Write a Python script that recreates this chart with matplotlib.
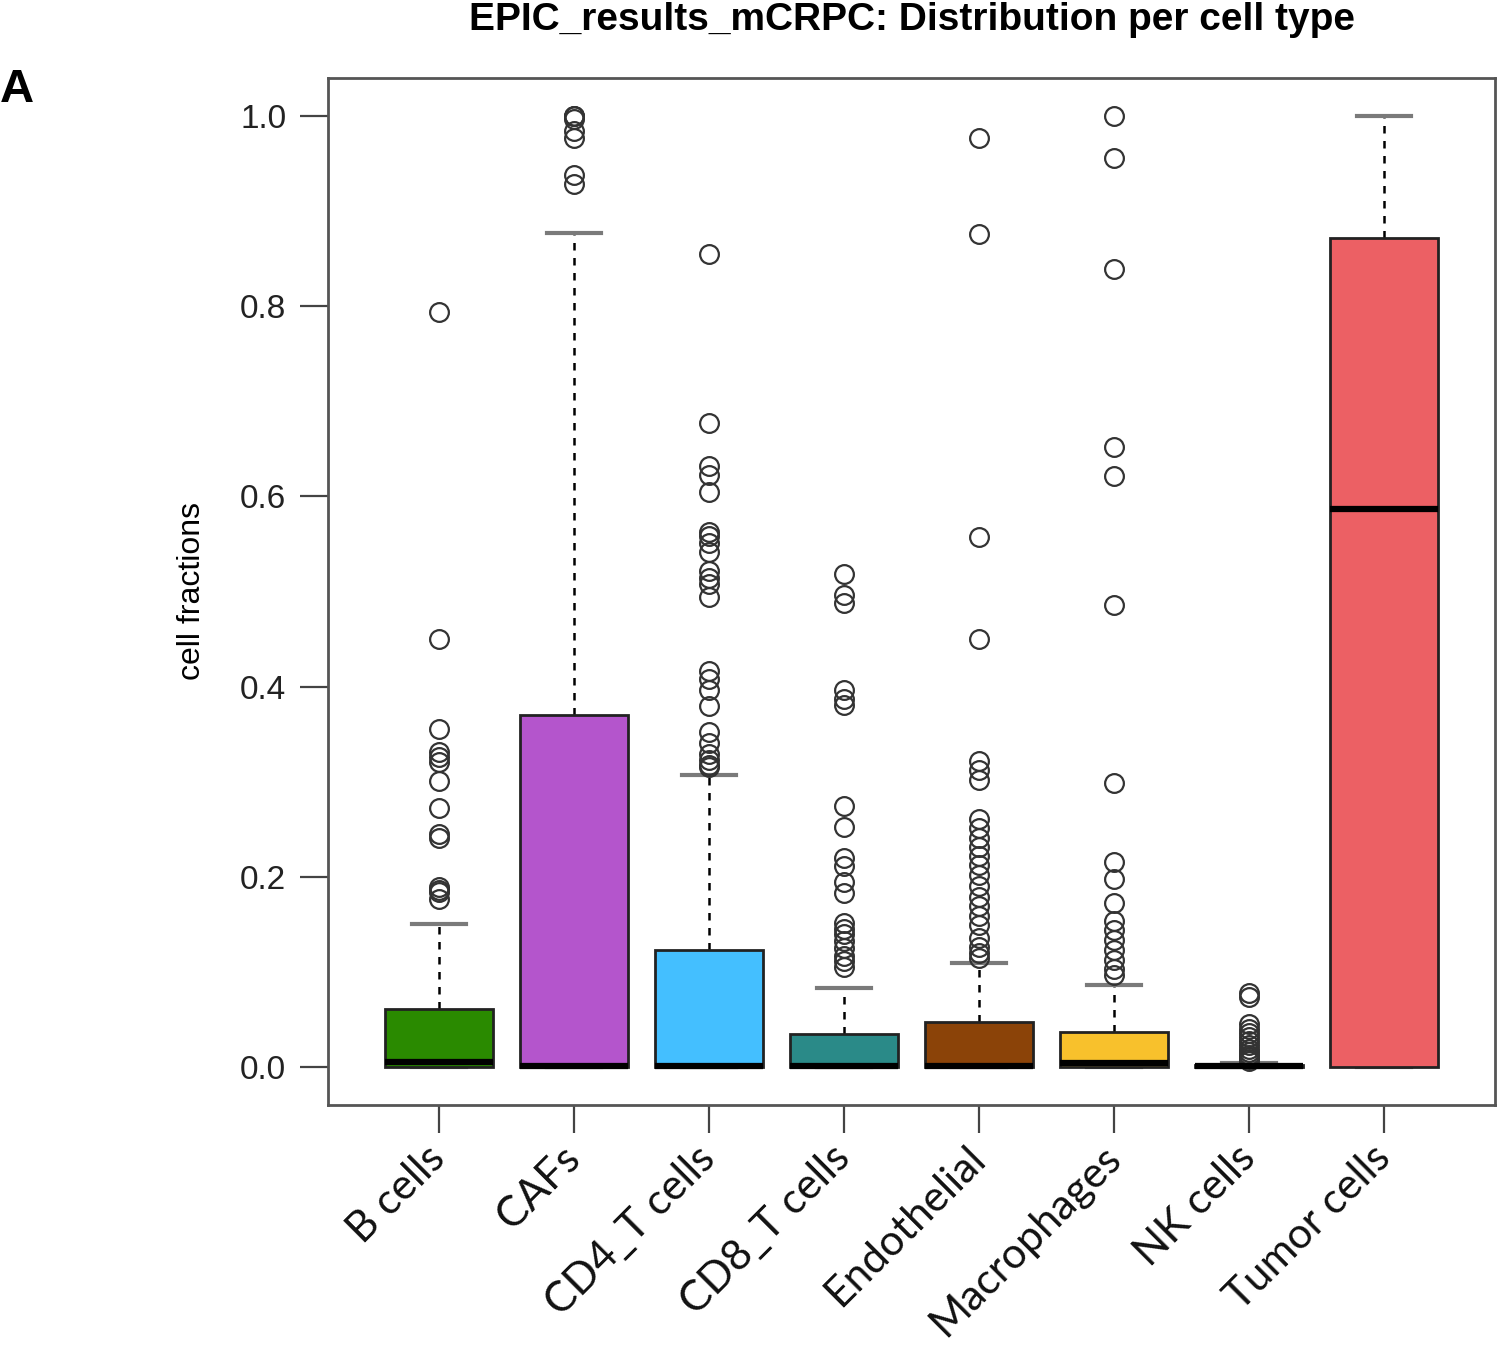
import numpy as np
import matplotlib.pyplot as plt

# cell types and box statistics
cell_types = ["B cells", "CAFs", "CD4_T cells", "CD8_T cells", "Endothelial",
              "Macrophages", "NK cells", "Tumor cells"]
box_colors = ["#2A8A00", "#B455CC", "#44BFFF", "#2A8A88", "#8B4308",
              "#F8C12C", "#222222", "#EC6064"]

whis_lo = [0.0, 0.0, 0.0, 0.0, 0.0, 0.0, 0.0, 0.0]
q1 = [0.0, 0.0, 0.0, 0.0, 0.0, 0.0, 0.0, 0.0]
med = [0.005, 0.001, 0.001, 0.001, 0.001, 0.004, 0.0005, 0.587]
q3 = [0.061, 0.370, 0.123, 0.035, 0.047, 0.037, 0.002, 0.872]
whis_hi = [0.150, 0.877, 0.307, 0.083, 0.109, 0.086, 0.004, 1.0]

out_b = [0.794, 0.450, 0.355, 0.331, 0.326, 0.321, 0.301, 0.272, 0.245,
         0.241, 0.189, 0.186, 0.184, 0.177]
out_caf = [1.0, 1.0, 1.0, 0.997, 0.984, 0.977, 0.938, 0.929]
out_cd4 = [0.855, 0.677, 0.632, 0.623, 0.605, 0.563, 0.558, 0.551, 0.542,
           0.522, 0.514, 0.508, 0.494, 0.416, 0.408, 0.396, 0.380, 0.352,
           0.341, 0.329, 0.323, 0.318, 0.315]
out_cd8 = [0.518, 0.496, 0.488, 0.396, 0.387, 0.381, 0.274, 0.252, 0.220,
           0.211, 0.194, 0.183, 0.151, 0.145, 0.140, 0.132, 0.125, 0.117,
           0.111, 0.105]
out_endo = [0.977, 0.876, 0.557, 0.450, 0.322, 0.312, 0.302, 0.261, 0.251,
            0.241, 0.231, 0.222, 0.212, 0.202, 0.190, 0.179, 0.169, 0.159,
            0.149, 0.136, 0.126, 0.120, 0.115]
out_macro = [1.0, 0.956, 0.839, 0.652, 0.621, 0.486, 0.299, 0.216, 0.198,
             0.172, 0.154, 0.144, 0.133, 0.123, 0.113, 0.103, 0.097]
out_nk = [0.078, 0.074, 0.045, 0.040, 0.036, 0.031, 0.027, 0.023, 0.019,
          0.016, 0.013, 0.010, 0.008, 0.006]
out_tumor = []
outliers = [out_b, out_caf, out_cd4, out_cd8, out_endo, out_macro, out_nk,
            out_tumor]

stats = []
for i in range(len(cell_types)):
    stats.append(dict(whislo=whis_lo[i], q1=q1[i], med=med[i], q3=q3[i],
                      whishi=whis_hi[i], fliers=outliers[i],
                      label=cell_types[i]))

fig = plt.figure(figsize=(15, 13.57), dpi=100)
ax = fig.add_axes([328 / 1500, 1 - 1105 / 1357, 1167 / 1500, 1027 / 1357])

bp = ax.bxp(stats, positions=np.arange(1, 9), widths=0.8, patch_artist=True,
            capwidths=0.4,
            boxprops=dict(edgecolor="#222222", linewidth=2),
            medianprops=dict(color="black", linewidth=4.5),
            whiskerprops=dict(color="black", linewidth=1.8, linestyle=(0, (3, 3))),
            capprops=dict(color="#7a7a7a", linewidth=3),
            flierprops=dict(marker="o", markersize=13.5, markerfacecolor="none",
                            markeredgecolor="#333333", markeredgewidth=1.6))
for patch, c in zip(bp["boxes"], box_colors):
    patch.set_facecolor(c)
    patch.set_zorder(3)
for m in bp["medians"]:
    m.set_zorder(4)
# lower caps sit at 0 and are hidden behind the boxes
for cap in bp["caps"][0::2]:
    cap.set_zorder(1)

ax.set_xlim(0.18, 8.82)
ax.set_ylim(-0.04, 1.04)
ax.set_yticks([0.0, 0.2, 0.4, 0.6, 0.8, 1.0])
ax.set_yticklabels(["0.0", "0.2", "0.4", "0.6", "0.8", "1.0"],
                   fontsize=24, family="Liberation Sans", color="#222222")
ax.set_xticks(np.arange(1, 9))
ax.set_xticklabels(cell_types, rotation=45, ha="right", va="center",
                   rotation_mode="anchor", fontsize=30.5, family="Lato",
                   color="#111111")
ax.tick_params(axis="both", length=20, width=1.6, color="#444444", pad=10)
ax.tick_params(axis="x", pad=14)
for s in ax.spines.values():
    s.set_color("#555555")
    s.set_linewidth(2)

ax.set_ylabel("cell fractions", fontsize=23, family="Liberation Sans",
              labelpad=24)
fig.text(912 / 1500, 1 - 20 / 1357, "EPIC_results_mCRPC: Distribution per cell type",
         ha="center", va="center", fontsize=28, fontweight="bold",
         family="Liberation Sans")
fig.text(0.0, 1 - 90 / 1357, "A", ha="left", va="center", fontsize=34,
         fontweight="bold", family="Liberation Sans")

fig.savefig("out.png", dpi=100, facecolor="white")
